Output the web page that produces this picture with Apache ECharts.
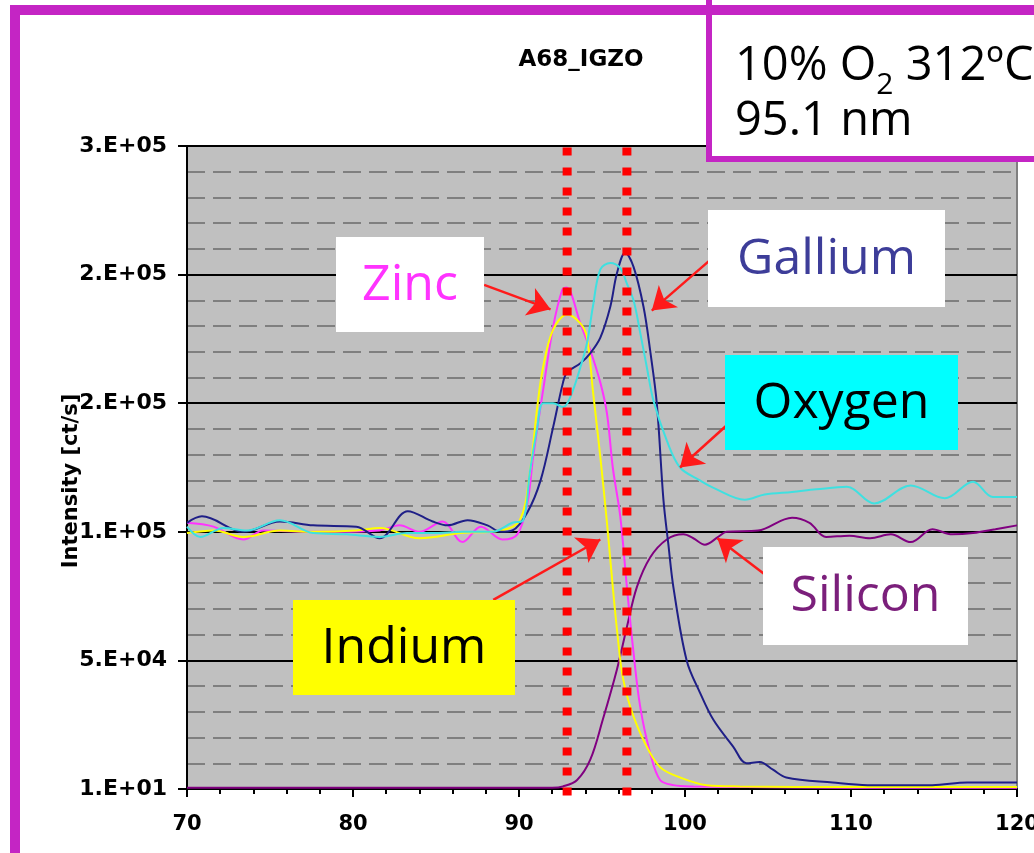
<!DOCTYPE html>
<html>
<head>
<meta charset="utf-8">
<script src="https://cdn.jsdelivr.net/npm/echarts@6/dist/echarts.min.js"></script>
<style>
  html, body { margin: 0; padding: 0; background: #ffffff; }
  #chart { width: 1034px; height: 853px; }
</style>
</head>
<body>
<div id="chart"></div>
<script>
// Depth profile of the A68 IGZO film: intensity per element vs. depth.
// The vertical scale is drawn in tick-step units (0..5); the tick labels below name each step.
const yTickLabels = ['1.E+01', '5.E+04', '1.E+05', '2.E+05', '2.E+05', '3.E+05'];

// [depth, level] pairs for each element
const gallium = [
  [70, 2.07], [70.9, 2.12], [73.4, 2.0], [75.6, 2.08], [77.6, 2.05], [80.2, 2.04],
  [81.6, 1.95], [83.3, 2.16], [84.8, 2.08], [85.7, 2.05], [86.9, 2.09], [88.1, 2.05],
  [88.9, 2.0], [89.6, 2.01], [90.5, 2.15], [91.3, 2.4], [92.05, 2.81], [92.65, 3.16],
  [92.9, 3.24], [93.7, 3.31], [94.3, 3.39], [94.9, 3.51], [95.5, 3.75], [95.9, 4.01],
  [96.4, 4.17], [96.9, 4.06], [97.5, 3.75], [97.9, 3.41], [98.3, 3.0], [98.7, 2.25],
  [99.0, 1.9], [99.3, 1.57], [100.1, 1.0], [100.9, 0.75], [101.7, 0.54], [102.9, 0.33],
  [103.7, 0.2], [104.5, 0.21], [105.3, 0.15], [106.1, 0.09], [108.9, 0.05], [111.0, 0.03],
  [114.9, 0.03], [117.0, 0.05], [120, 0.05]
];
const zinc = [
  [70, 2.07], [71.6, 2.04], [73.4, 1.94], [74.6, 2.01], [77.6, 2.0], [79.0, 2.0],
  [81.6, 2.01], [82.8, 2.05], [84.0, 2.0], [85.4, 2.08], [86.6, 1.92], [87.7, 2.04],
  [89.0, 1.94], [89.9, 1.98], [90.5, 2.22], [90.85, 2.58], [91.45, 3.1], [92.05, 3.59],
  [92.6, 3.88], [92.85, 3.9], [93.7, 3.62], [94.3, 3.41], [94.9, 3.16], [95.3, 2.92],
  [95.65, 2.5], [96.1, 2.12], [96.5, 1.57], [96.9, 1.06], [97.3, 0.64], [97.9, 0.28],
  [98.5, 0.07], [99.3, 0.03], [100.5, 0.02], [110, 0.01], [120, 0.01]
];
const indium = [
  [70, 1.99], [71.6, 2.01], [73.4, 1.96], [75.6, 2.01], [77.6, 2.0], [80.2, 2.01],
  [81.6, 2.03], [84.0, 1.95], [86.5, 1.99], [88.9, 2.01], [90.05, 2.09], [90.65, 2.46],
  [91.1, 2.97], [91.45, 3.28], [92.05, 3.57], [92.9, 3.69], [93.7, 3.62], [94.1, 3.51],
  [94.45, 3.1], [94.9, 2.58], [95.3, 2.07], [95.65, 1.57], [95.95, 1.18], [96.25, 0.87],
  [96.7, 0.64], [97.5, 0.38], [98.5, 0.17], [99.7, 0.09], [101.3, 0.03], [103.3, 0.02],
  [110, 0.015], [120, 0.015]
];
const oxygen = [
  [70, 2.04], [70.8, 1.96], [72.2, 2.03], [73.6, 2.01], [75.6, 2.09], [77.6, 1.99],
  [79.6, 1.98], [81.6, 1.96], [83.25, 1.99], [84.8, 1.99], [86.6, 2.0], [88.4, 2.0],
  [89.6, 2.07], [90.25, 2.09], [90.65, 2.46], [91.1, 2.81], [91.45, 3.0], [92.05, 3.0],
  [92.65, 2.97], [93.1, 3.05], [93.7, 3.28], [94.1, 3.47], [94.45, 3.75], [94.9, 4.04],
  [95.5, 4.09], [96.1, 4.05], [96.5, 3.93], [96.9, 3.8], [97.3, 3.55], [97.7, 3.28],
  [98.1, 3.02], [98.9, 2.71], [99.7, 2.5], [100.9, 2.4], [101.75, 2.34], [103.6, 2.25],
  [104.8, 2.29], [106.45, 2.31], [107.9, 2.33], [109.75, 2.35], [111.4, 2.22], [113.6, 2.36],
  [115.65, 2.26], [117.35, 2.39], [118.55, 2.27], [120, 2.27]
];
const silicon = [
  [70, 0.01], [80, 0.01], [92, 0.01], [92.65, 0.02], [93.5, 0.07], [94.3, 0.23],
  [95.05, 0.54], [95.9, 0.93], [96.5, 1.26], [97.1, 1.57], [97.9, 1.8], [98.9, 1.94],
  [99.9, 1.98], [100.5, 1.95], [101.2, 1.9], [102.0, 1.96], [102.5, 2.0], [104.4, 2.01],
  [106.45, 2.11], [107.5, 2.07], [108.5, 1.96], [109.9, 1.97], [111.15, 1.95], [112.4, 1.98],
  [113.6, 1.92], [114.9, 2.02], [116.1, 1.98], [117.35, 1.99], [118.7, 2.02], [120, 2.05]
];

// Depths of the two dotted guide lines, and how far they run past the plot (in level units)
const guideDepths = [92.9, 96.5];
const guideSpan = [-0.05, 5.04];

// Callout arrows: [tail depth, tail level, tip depth, tip level]
const calloutArrows = [
  [87.9, 3.92, 91.9, 3.73],   // Zinc
  [101.75, 4.14, 98.0, 3.72], // Gallium
  [103.3, 2.92, 99.7, 2.5],   // Oxygen
  [88.45, 1.47, 94.9, 1.94],  // Indium
  [105.8, 1.57, 101.95, 1.95] // Silicon
];

const chart = echarts.init(document.getElementById('chart'), null, { renderer: 'canvas' });

const MAGENTA = '#c425c4';
const AXIS_FONT = '"DejaVu Sans", Verdana, sans-serif';
const LABEL_FONT = '"Open Sans", sans-serif';

function elementLine(name, data, color) {
  return {
    name: name,
    type: 'line',
    data: data,
    smooth: 0.35,
    symbol: 'none',
    lineStyle: { color: color, width: 2 },
    silent: true
  };
}

function calloutBox(x, y, w, h, fill, text, textColor) {
  return [
    { type: 'rect', z: 100, shape: { x: x, y: y, width: w, height: h }, style: { fill: fill } },
    {
      type: 'text', z: 101,
      x: x + w / 2, y: y + h / 2 + 1,
      style: {
        text: text, fill: textColor, font: '50px ' + LABEL_FONT,
        textAlign: 'center', textVerticalAlign: 'middle'
      }
    }
  ];
}

chart.setOption({
  animation: false,
  backgroundColor: '#ffffff',
  grid: {
    left: 187, top: 146, width: 830, height: 643,
    outerBoundsMode: 'none',
    containLabel: false,
    show: true, backgroundColor: '#c0c0c0', borderColor: '#7f7f7f', borderWidth: 2
  },
  xAxis: {
    type: 'value', min: 70, max: 120, interval: 10,
    axisLine: { show: true, lineStyle: { color: '#000', width: 2 } },
    axisTick: { show: true, length: 8, lineStyle: { color: '#000', width: 2 } },
    minorTick: { show: true, splitNumber: 5, length: 5, lineStyle: { color: '#000', width: 2 } },
    splitLine: { show: false },
    axisLabel: { fontFamily: AXIS_FONT, fontWeight: 'bold', color: '#000', fontSize: 21, margin: 25 }
  },
  yAxis: {
    type: 'value', min: 0, max: 5, interval: 1,
    axisLine: { show: true, lineStyle: { color: '#000', width: 2 } },
    axisTick: { show: true, length: 9, lineStyle: { color: '#000', width: 2 } },
    minorTick: { show: false, splitNumber: 5 },
    splitLine: { show: true, lineStyle: { color: '#000', width: 2 } },
    minorSplitLine: { show: true, lineStyle: { color: '#7f7f7f', width: 2, type: [18, 8] } },
    axisLabel: {
      fontFamily: AXIS_FONT, fontWeight: 'bold', color: '#000', fontSize: 22, margin: 20,
      formatter: function (v) { return yTickLabels[Math.round(v)]; }
    }
  },
  series: [
    elementLine('Silicon', silicon, '#800080'),
    elementLine('Zinc', zinc, '#ff33ff'),
    elementLine('Indium', indium, '#ffff00'),
    elementLine('Gallium', gallium, '#1f1f87'),
    elementLine('Oxygen', oxygen, '#3fe0e0'),
    {
      name: 'callouts',
      type: 'line',
      data: [],
      z: 30,
      markLine: {
        silent: true,
        symbol: ['none', 'arrow'],
        symbolSize: 22,
        label: { show: false },
        lineStyle: { color: '#ff1a1a', width: 2.5, type: 'solid' },
        data: calloutArrows.map(function (a) {
          return [{ coord: [a[0], a[1]] }, { coord: [a[2], a[3]] }];
        })
      }
    }
  ]
});

// Dotted guides run a little beyond the plot edges, so they are placed via the axis scales.
const guideLines = guideDepths.map(function (d) {
  const p0 = chart.convertToPixel({ gridIndex: 0 }, [d, guideSpan[0]]);
  const p1 = chart.convertToPixel({ gridIndex: 0 }, [d, guideSpan[1]]);
  return {
    type: 'line', z: 60, silent: true,
    shape: { x1: p0[0], y1: p0[1], x2: p1[0], y2: p1[1] },
    style: { stroke: '#ff0000', lineWidth: 9, lineDash: [8, 12], lineCap: 'butt' }
  };
});

const graphics = [].concat(
  guideLines,
  calloutBox(336, 237, 148, 95, '#ffffff', 'Zinc', '#ff33ff'),
  calloutBox(708, 210, 237, 97, '#ffffff', 'Gallium', '#3d3d99'),
  calloutBox(725, 355, 233, 95, '#00ffff', 'Oxygen', '#000000'),
  calloutBox(293, 600, 222, 95, '#ffff00', 'Indium', '#000000'),
  calloutBox(763, 547, 205, 98, '#ffffff', 'Silicon', '#7b1f7b'),
  [
    // vertical axis title
    {
      type: 'text', z: 160, x: 72, y: 481, rotation: Math.PI / 2,
      style: {
        text: 'Intensity [ct/s]', font: 'bold 21px ' + AXIS_FONT, fill: '#000',
        textAlign: 'center', textVerticalAlign: 'middle'
      }
    },
    // sample title
    {
      type: 'text', z: 160, x: 581, y: 60,
      style: {
        text: 'A68_IGZO', font: 'bold 23px ' + AXIS_FONT, fill: '#000',
        textAlign: 'center', textVerticalAlign: 'middle'
      }
    },
    // sample condition box
    {
      type: 'rect', z: 150,
      shape: { x: 709, y: -20, width: 400, height: 179 },
      style: { fill: '#ffffff', stroke: MAGENTA, lineWidth: 6 }
    },
    {
      type: 'text', z: 160, x: 735, y: 60,
      style: {
        text: '{a|10% O}{s|2}{a| 312ºC}',
        textVerticalAlign: 'middle',
        rich: {
          a: { font: '47px ' + LABEL_FONT, fill: '#000', verticalAlign: 'bottom', lineHeight: 60 },
          s: { font: '30px ' + LABEL_FONT, fill: '#000', verticalAlign: 'bottom', lineHeight: 60, padding: [0, 0, -10, 0] }
        }
      }
    },
    {
      type: 'text', z: 160, x: 735, y: 122,
      style: { text: '95.1 nm', font: '47px ' + LABEL_FONT, fill: '#000', textVerticalAlign: 'middle' }
    },
    // outer frame
    {
      type: 'rect', z: 200,
      shape: { x: 15, y: 10, width: 1100, height: 1000 },
      style: { fill: null, stroke: MAGENTA, lineWidth: 10 }
    }
  ]
);

chart.setOption({ graphic: graphics });
</script>
</body>
</html>
